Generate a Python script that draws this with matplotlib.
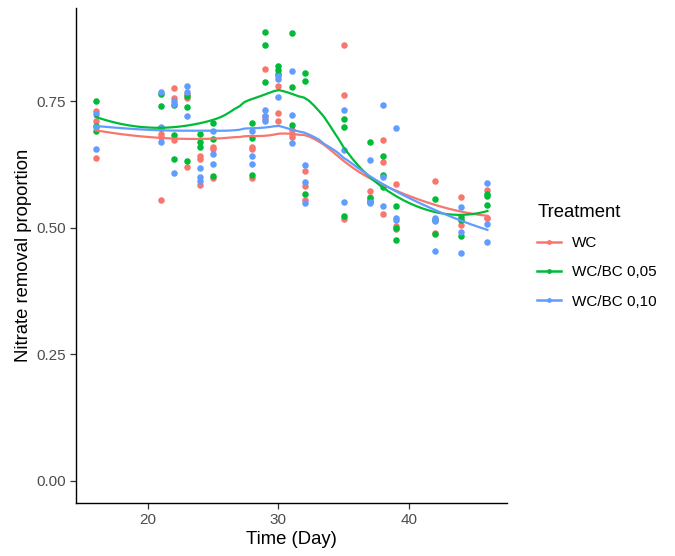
import numpy as np
import matplotlib
matplotlib.use("Agg")
import matplotlib.pyplot as plt
from matplotlib.lines import Line2D

plt.rcParams['font.family'] = ['Liberation Sans', 'DejaVu Sans']

days = [16, 21, 22, 23, 24, 25, 28, 29, 30, 31, 32, 35, 37, 38, 39, 42, 44, 46]

# three replicates per day
wc = [
    (0.730, 0.711, 0.638), (0.685, 0.680, 0.555), (0.776, 0.756, 0.674),
    (0.764, 0.757, 0.620), (0.641, 0.635, 0.585), (0.659, 0.655, 0.599),
    (0.660, 0.655, 0.599), (0.814, 0.720, 0.715), (0.781, 0.726, 0.712),
    (0.693, 0.686, 0.680), (0.613, 0.583, 0.554), (0.861, 0.762, 0.518),
    (0.573, 0.560, 0.550), (0.673, 0.630, 0.528), (0.586, 0.504, 0.497),
    (0.593, 0.489, 0.515), (0.560, 0.505, 0.515), (0.575, 0.520, 0.520),
]
wc_bc05 = [
    (0.751, 0.702, 0.692), (0.765, 0.741, 0.698), (0.743, 0.683, 0.636),
    (0.738, 0.631, 0.760), (0.686, 0.659, 0.670), (0.708, 0.675, 0.603),
    (0.708, 0.677, 0.604), (0.888, 0.861, 0.789), (0.820, 0.812, 0.804),
    (0.886, 0.779, 0.704), (0.805, 0.791, 0.566), (0.715, 0.700, 0.523),
    (0.669, 0.558, 0.552), (0.641, 0.605, 0.581), (0.543, 0.475, 0.500),
    (0.556, 0.487, 0.515), (0.521, 0.484, 0.515), (0.566, 0.562, 0.545),
]
wc_bc10 = [
    (0.725, 0.700, 0.655), (0.769, 0.670, 0.700), (0.750, 0.745, 0.608),
    (0.781, 0.768, 0.721), (0.618, 0.593, 0.600), (0.692, 0.646, 0.626),
    (0.692, 0.642, 0.626), (0.733, 0.712, 0.720), (0.794, 0.759, 0.800),
    (0.810, 0.723, 0.668), (0.624, 0.590, 0.549), (0.733, 0.653, 0.551),
    (0.634, 0.549, 0.550), (0.743, 0.543, 0.600), (0.698, 0.515, 0.520),
    (0.520, 0.514, 0.454), (0.540, 0.492, 0.450), (0.588, 0.507, 0.471),
]

labels = ['WC', 'WC/BC 0,05', 'WC/BC 0,10']
colors = ['#F8766D', '#00BA38', '#619CFF']
series = [wc, wc_bc05, wc_bc10]


def loess(x, y, grid, span=0.75):
    # local quadratic fit with tricube weights, like R's loess default
    n = len(x)
    q = int(np.floor(n * span))
    out = []
    for x0 in grid:
        d = np.abs(x - x0)
        h = np.sort(d)[q - 1]
        w = np.clip(1 - (d / h) ** 3, 0, None) ** 3
        A = np.vstack([np.ones(n), x - x0, (x - x0) ** 2]).T
        W = np.sqrt(w)
        coef = np.linalg.lstsq(A * W[:, None], y * W, rcond=None)[0]
        out.append(coef[0])
    return np.array(out)


fig = plt.figure(figsize=(6.75, 5.56), dpi=100)
ax = fig.add_axes([76 / 675, 1 - 503 / 556, (507 - 76) / 675, (503 - 8) / 556])

grid = np.linspace(min(days), max(days), 80)
for vals, col in zip(series, colors):
    xs = np.repeat(days, 3).astype(float)
    ys = np.array(vals).ravel()
    ax.scatter(xs, ys, s=22, color=col, linewidths=0, zorder=2)
for vals, col in zip(series, colors):
    xs = np.repeat(days, 3).astype(float)
    ys = np.array(vals).ravel()
    ax.plot(grid, loess(xs, ys, grid), color=col, lw=1.6, zorder=3)

ax.set_xlim(14.5, 47.5)
ax.set_ylim(-0.0445, 0.9345)
ax.set_xticks([20, 30, 40])
ax.set_yticks([0, 0.25, 0.5, 0.75])
ax.set_yticklabels(['0.00', '0.25', '0.50', '0.75'])
for s in ['top', 'right']:
    ax.spines[s].set_visible(False)
for s in ['left', 'bottom']:
    ax.spines[s].set_linewidth(1.0)
ax.tick_params(length=4, width=0.9, color='#333333', labelcolor='#4D4D4D',
               labelsize=11, pad=3)
ax.set_xlabel('Time (Day)', fontsize=13.3, labelpad=3)
ax.set_ylabel('Nitrate removal proportion', fontsize=13.3, labelpad=3)

# legend: title as separate text, entries below
fig.text(538 / 675, 1 - 212 / 556, 'Treatment', fontsize=13.3,
         ha='left', va='center')
handles = [Line2D([], [], color=c, lw=1.8, marker='o', markersize=3.5,
                  markeredgewidth=0) for c in colors]
fig.legend(handles, labels, loc='upper left',
           bbox_to_anchor=(537 / 675, 1 - 236 / 556), frameon=False,
           borderpad=0, borderaxespad=0, fontsize=11, handlelength=1.57,
           handletextpad=0.72, labelspacing=1.0)

fig.savefig('out.png', dpi=100)
